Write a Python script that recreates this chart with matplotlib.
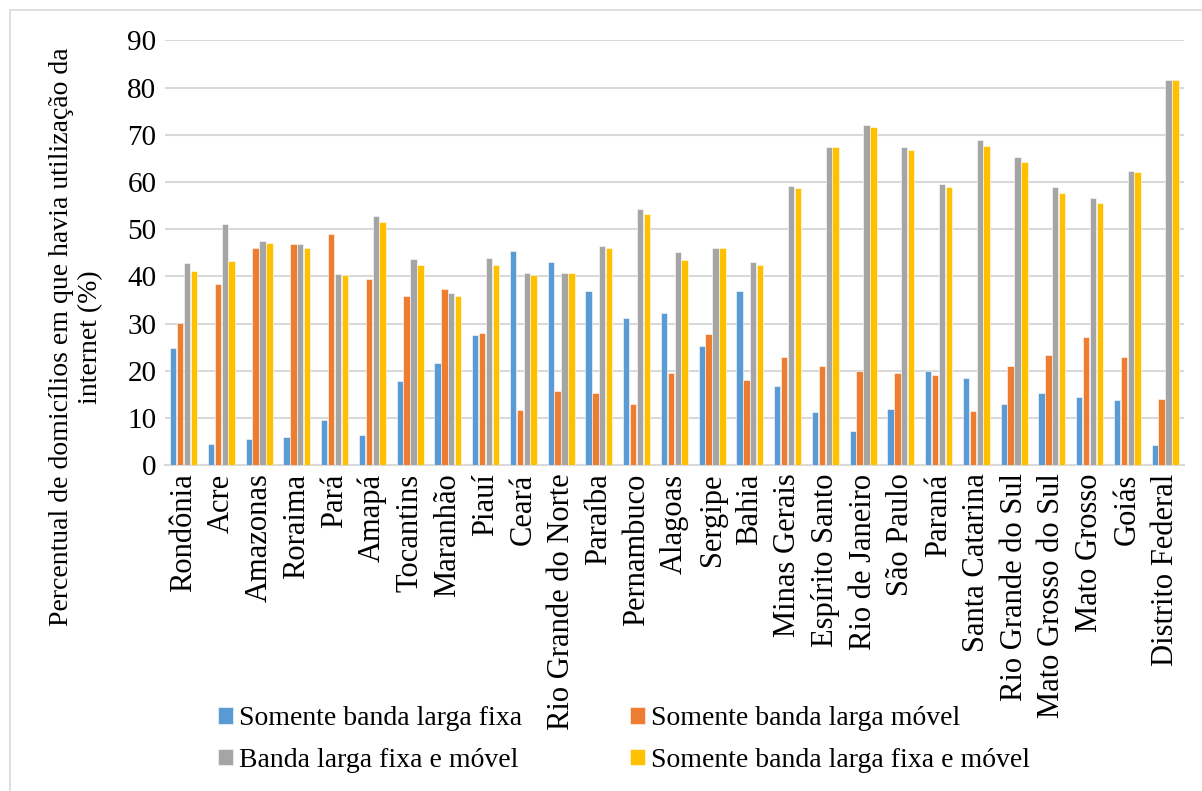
import matplotlib
matplotlib.use("Agg")
import matplotlib.pyplot as plt
import numpy as np
from matplotlib.patches import Rectangle

estados = ["Rondônia", "Acre", "Amazonas", "Roraima", "Pará", "Amapá", "Tocantins",
           "Maranhão", "Piauí", "Ceará", "Rio Grande do Norte", "Paraíba", "Pernambuco",
           "Alagoas", "Sergipe", "Bahia", "Minas Gerais", "Espírito Santo", "Rio de Janeiro",
           "São Paulo", "Paraná", "Santa Catarina", "Rio Grande do Sul", "Mato Grosso do Sul",
           "Mato Grosso", "Goiás", "Distrito Federal"]

somente_fixa = [24.8, 4.5, 5.6, 5.9, 9.5, 6.3, 17.9, 21.7, 27.5, 45.4, 43.1, 36.9, 31.1,
                32.3, 25.2, 36.9, 16.8, 11.3, 7.3, 11.9, 19.9, 18.4, 12.9, 15.2, 14.4, 13.8, 4.2]
somente_movel = [30.2, 38.3, 45.9, 46.8, 48.9, 39.4, 35.8, 37.3, 27.9, 11.6, 15.7, 15.3, 12.9,
                 19.5, 27.7, 18.1, 23.0, 21.1, 19.9, 19.5, 19.0, 11.5, 21.1, 23.4, 27.1, 23.0, 14.0]
fixa_e_movel = [42.8, 51.1, 47.5, 46.8, 40.4, 52.8, 43.7, 36.5, 43.8, 40.7, 40.8, 46.5, 54.2,
                45.1, 45.9, 43.1, 59.1, 67.5, 72.0, 67.5, 59.5, 68.8, 65.2, 59.0, 56.5, 62.4, 81.7]
somente_fixa_e_movel = [41.1, 43.3, 47.1, 46.1, 40.2, 51.6, 42.4, 35.8, 42.3, 40.3, 40.8, 46.1, 53.3,
                        43.4, 45.9, 42.4, 58.7, 67.3, 71.7, 66.7, 58.9, 67.7, 64.3, 57.6, 55.6, 62.1, 81.5]

series_labels = ["Somente banda larga fixa", "Somente banda larga móvel",
                 "Banda larga fixa e móvel", "Somente banda larga fixa e móvel"]
colors = ["#5B9BD5", "#ED7D31", "#A5A5A5", "#FFC000"]
yticks = [0, 10, 20, 30, 40, 50, 60, 70, 80, 90]

plt.rcParams['font.family'] = 'serif'
plt.rcParams['font.serif'] = ['Liberation Serif', 'Times New Roman', 'DejaVu Serif']

fig = plt.figure(figsize=(12.02, 7.91), dpi=100)
ax = fig.add_axes([0.137, 0.412, 0.848, 0.537])

x = np.arange(len(estados))
w = 0.17
series = [somente_fixa, somente_movel, fixa_e_movel, somente_fixa_e_movel]
handles = []
for i, (vals, c, lab) in enumerate(zip(series, colors, series_labels)):
    b = ax.bar(x + (i - 1.5) * (w + 0.012), vals, width=w, color=c, label=lab,
               edgecolor='white', linewidth=0.4, zorder=3)
    handles.append(b)

ax.set_xlim(-0.5, len(estados) - 0.5)
ax.set_ylim(0, 90)
ax.set_yticks(yticks)
ax.set_yticklabels([str(t) for t in yticks], fontsize=21)
ax.set_xticks(x)
ax.set_xticklabels(estados, rotation=90, fontsize=22)
ax.tick_params(axis='both', length=0, pad=6)
ax.grid(axis='y', color='#D9D9D9', linewidth=1.5, zorder=0)
for s in ['top', 'right', 'left']:
    ax.spines[s].set_visible(False)
ax.spines['bottom'].set_color('#D9D9D9')
ax.spines['bottom'].set_linewidth(1.5)

fig.text(76 / 1202, 1 - 337 / 791,
         "Percentual de domicílios em que havia utilização da\ninternet (%)",
         rotation=90, ha='center', va='center', multialignment='center',
         fontsize=20, linespacing=1.2)

order = [0, 2, 1, 3]
fig.legend(handles=[handles[i] for i in order], labels=[series_labels[i] for i in order],
           loc='center', ncol=2,
           bbox_to_anchor=(0.519, 0.065), fontsize=20, frameon=False,
           handlelength=0.55, handleheight=0.55, handletextpad=0.2,
           columnspacing=3.9, labelspacing=0.6)

fig.patches.append(Rectangle((0.008, -0.01), 0.995, 0.997, transform=fig.transFigure,
                             fill=False, edgecolor='#D9D9D9', linewidth=1.2))

fig.savefig("out.png", dpi=100)
